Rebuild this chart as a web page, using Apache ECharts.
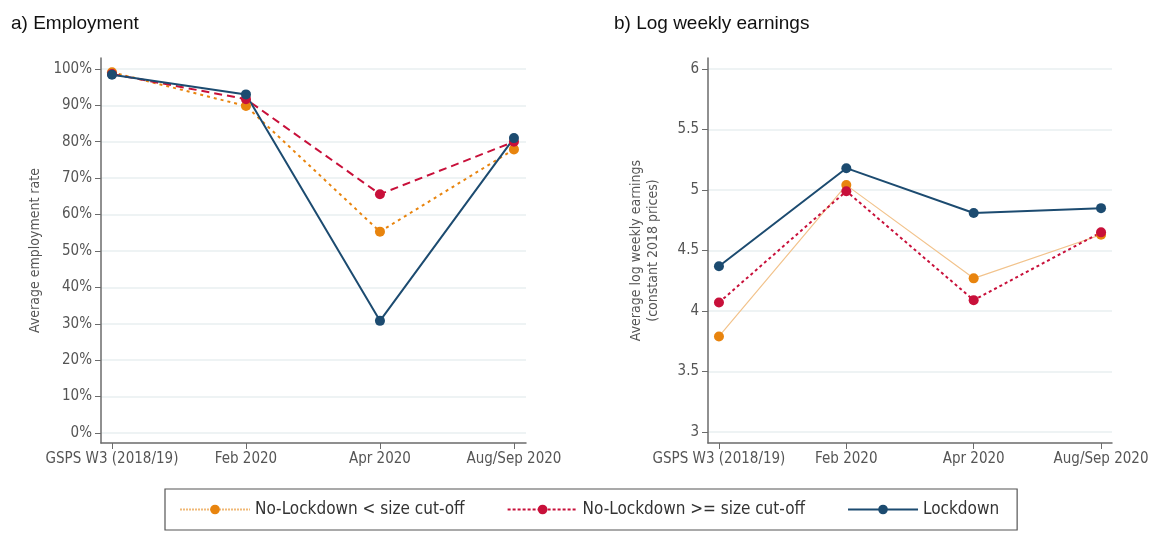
<!DOCTYPE html>
<html>
<head>
<meta charset="utf-8">
<title>Employment and log weekly earnings</title>
<script src="https://cdn.jsdelivr.net/npm/echarts@6.0.0/dist/echarts.min.js"></script>
<style>
  html, body { margin: 0; padding: 0; background: #fff; }
  #chart { width: 1152px; height: 535px; }
</style>
</head>
<body>
<div id="chart"></div>
<script>
// categories on the x axis (same for both panels)
const periods = ['GSPS W3 (2018/19)', 'Feb 2020', 'Apr 2020', 'Aug/Sep 2020']
const seriesNames = ['No-Lockdown < size cut-off', 'No-Lockdown >= size cut-off', 'Lockdown']

// a) employment rate, %
const empSmall = [99.1, 89.8, 55.3, 77.9]
const empLarge = [98.6, 91.7, 65.6, 80.0]
const empLockdown = [98.4, 93.0, 30.8, 81.0]

// b) average log weekly earnings
const earnSmall = [3.79, 5.04, 4.27, 4.63]
const earnLarge = [4.07, 4.99, 4.09, 4.65]
const earnLockdown = [4.37, 5.18, 4.81, 4.85]

// tick labels
const empTicks = [0, 10, 20, 30, 40, 50, 60, 70, 80, 90, 100]
const earnTicks = [3, 3.5, 4, 4.5, 5, 5.5, 6]
const xTicks = [0, 1, 2, 3]

const ORANGE = '#e8840e'
const RED = '#c8103a'
const BLUE = '#1c4b70'
const AXIS = '#6b6b6b'
const GRID = '#e9eff1'
const TXT = '#555'
const NARROW = '"Liberation Sans Narrow", "DejaVu Sans Condensed", Roboto, sans-serif'

const toPoints = arr => arr.map((v, i) => [i, v])

const chart = echarts.init(document.getElementById('chart'))

const xAxisBase = (gridIndex, min, max) => ({
  type: 'value',
  gridIndex,
  min,
  max,
  axisLine: { show: true, onZero: false, lineStyle: { color: AXIS, width: 1.5 } },
  axisTick: { show: true, length: 6, customValues: xTicks, lineStyle: { color: AXIS } },
  axisLabel: {
    customValues: xTicks,
    formatter: v => periods[Math.round(v)],
    color: TXT,
    fontFamily: NARROW,
    fontSize: 15,
    margin: 9
  },
  splitLine: { show: false }
})

const yAxisBase = (gridIndex, min, max, ticks) => ({
  type: 'value',
  gridIndex,
  min,
  max,
  axisLine: { show: true, onZero: false, lineStyle: { color: AXIS, width: 1.5 } },
  axisTick: { show: true, length: 6, customValues: ticks, lineStyle: { color: AXIS } },
  splitLine: { show: true, lineStyle: { color: GRID, width: 1.5 } },
  nameLocation: 'middle',
  nameTextStyle: { color: TXT, fontFamily: NARROW, fontSize: 14, lineHeight: 17 }
})

const option = {
  backgroundColor: '#fff',
  animation: false,
  title: [
    { text: 'a) Employment', left: 6, top: 9, textStyle: { fontFamily: 'Liberation Sans, Arial, sans-serif', fontWeight: 'normal', fontSize: 19, color: '#111' } },
    { text: 'b) Log weekly earnings', left: 609, top: 9, textStyle: { fontFamily: 'Liberation Sans, Arial, sans-serif', fontWeight: 'normal', fontSize: 19, color: '#111' } }
  ],
  grid: [
    { left: 101, right: 626, top: 58, bottom: 92 },
    { left: 708, right: 40, top: 58, bottom: 92 }
  ],
  xAxis: [
    xAxisBase(0, -0.082, 3.09),
    xAxisBase(1, -0.086, 3.086)
  ],
  yAxis: [
    Object.assign(yAxisBase(0, -2.75, 103, empTicks), {
      name: 'Average employment rate',
      nameGap: 57,
      axisLabel: { customValues: empTicks, formatter: '{value}%', color: TXT, fontFamily: NARROW, fontSize: 15, margin: 9 }
    }),
    Object.assign(yAxisBase(1, 2.91, 6.09, earnTicks), {
      name: 'Average log weekly earnings\n(constant 2018 prices)',
      nameGap: 46,
      axisLabel: { customValues: earnTicks, color: TXT, fontFamily: NARROW, fontSize: 15, margin: 9 }
    })
  ],
  legend: {
    left: 165,
    top: 489,
    padding: [12, 18, 12, 14],
    itemGap: 42,
    itemWidth: 70,
    itemHeight: 12,
    borderColor: '#555',
    borderWidth: 1.2,
    borderRadius: 0,
    textStyle: { color: '#333', fontFamily: NARROW, fontSize: 17 },
    data: [
      { name: seriesNames[0], itemStyle: { color: ORANGE }, lineStyle: { color: '#f0b978', type: [2, 1], width: 2 } },
      { name: seriesNames[1], itemStyle: { color: RED }, lineStyle: { color: RED, type: [3, 2], width: 2 } },
      { name: seriesNames[2], itemStyle: { color: BLUE }, lineStyle: { color: BLUE, type: 'solid', width: 2 } }
    ]
  },
  series: [
    // panel a
    {
      name: seriesNames[0], type: 'line', xAxisIndex: 0, yAxisIndex: 0,
      data: toPoints(empSmall), symbol: 'circle', symbolSize: 10,
      itemStyle: { color: ORANGE },
      lineStyle: { color: ORANGE, width: 2, type: [3, 4] }
    },
    {
      name: seriesNames[1], type: 'line', xAxisIndex: 0, yAxisIndex: 0,
      data: toPoints(empLarge), symbol: 'circle', symbolSize: 10,
      itemStyle: { color: RED },
      lineStyle: { color: RED, width: 2, type: [8, 5] }
    },
    {
      name: seriesNames[2], type: 'line', xAxisIndex: 0, yAxisIndex: 0,
      data: toPoints(empLockdown), symbol: 'circle', symbolSize: 10,
      itemStyle: { color: BLUE },
      lineStyle: { color: BLUE, width: 2 }
    },
    // panel b
    {
      name: seriesNames[0], type: 'line', xAxisIndex: 1, yAxisIndex: 1,
      data: toPoints(earnSmall), symbol: 'circle', symbolSize: 10,
      itemStyle: { color: ORANGE },
      lineStyle: { color: '#f2c38c', width: 1.2 }
    },
    {
      name: seriesNames[1], type: 'line', xAxisIndex: 1, yAxisIndex: 1,
      data: toPoints(earnLarge), symbol: 'circle', symbolSize: 10,
      itemStyle: { color: RED },
      lineStyle: { color: RED, width: 2, type: [3, 3] }
    },
    {
      name: seriesNames[2], type: 'line', xAxisIndex: 1, yAxisIndex: 1,
      data: toPoints(earnLockdown), symbol: 'circle', symbolSize: 10,
      itemStyle: { color: BLUE },
      lineStyle: { color: BLUE, width: 2 }
    }
  ]
}

chart.setOption(option)

window.addEventListener('resize', () => chart.resize())
</script>
</body>
</html>
